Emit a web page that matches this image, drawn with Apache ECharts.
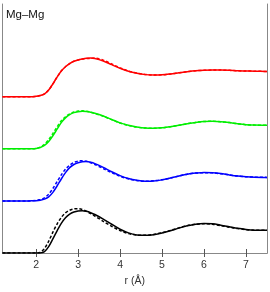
<!DOCTYPE html>
<html><head><meta charset="utf-8">
<script src="https://cdn.jsdelivr.net/npm/echarts@6/dist/echarts.min.js"></script>
<style>html,body{margin:0;padding:0;background:#fff}#c{width:270px;height:292px}</style>
</head><body><div id="c"></div>
<script>
const r = [1.2,1.6,1.8,1.9,2.0,2.1,2.2,2.3,2.4,2.5,2.6,2.7,2.8,2.9,3.0,3.1,3.2,3.3,3.4,3.6,3.8,4.0,4.2,4.4,4.6,4.8,5.0,5.2,5.4,5.6,5.8,6.0,6.2,6.4,6.6,6.8,7.0,7.2,7.5];
const blackSolid = [0,0,0,0,0,0.005,0.06,0.28,0.62,0.98,1.31,1.56,1.72,1.81,1.86,1.87,1.84,1.78,1.70,1.50,1.27,1.05,0.89,0.80,0.78,0.81,0.88,0.98,1.10,1.20,1.27,1.30,1.29,1.23,1.16,1.09,1.04,1.01,1.0];
const blackDash  = [0,0,0,0,0,0.03,0.2,0.52,0.92,1.28,1.57,1.77,1.89,1.95,1.96,1.92,1.84,1.74,1.63,1.40,1.18,0.99,0.86,0.79,0.78,0.82,0.90,1.00,1.11,1.21,1.27,1.29,1.27,1.21,1.14,1.08,1.03,1.01,1.0];
const blueSolid  = [0,0,0,0.003,0.012,0.035,0.08,0.18,0.38,0.66,0.97,1.25,1.47,1.61,1.69,1.73,1.74,1.71,1.65,1.48,1.29,1.12,0.99,0.91,0.87,0.88,0.93,1.01,1.10,1.18,1.23,1.26,1.25,1.21,1.15,1.10,1.07,1.05,1.04];
const blueDash   = [0,0,0,0.005,0.02,0.06,0.14,0.3,0.55,0.85,1.15,1.4,1.58,1.7,1.76,1.78,1.75,1.69,1.61,1.43,1.25,1.09,0.97,0.90,0.87,0.89,0.94,1.01,1.10,1.18,1.23,1.25,1.24,1.20,1.15,1.10,1.07,1.05,1.04];
const greenSolid = [0,0,0,0.005,0.02,0.06,0.15,0.33,0.58,0.87,1.16,1.37,1.51,1.6,1.64,1.66,1.65,1.62,1.57,1.45,1.30,1.15,1.04,0.97,0.92,0.91,0.93,0.98,1.04,1.11,1.17,1.21,1.22,1.20,1.16,1.11,1.07,1.05,1.04];
const greenDash  = [0,0,0,0.006,0.025,0.08,0.2,0.41,0.68,0.97,1.24,1.42,1.55,1.63,1.67,1.68,1.66,1.62,1.56,1.44,1.29,1.14,1.03,0.96,0.92,0.91,0.93,0.98,1.04,1.11,1.17,1.21,1.22,1.20,1.16,1.11,1.07,1.05,1.04];
const redSolid   = [0,0,0,0.006,0.02,0.055,0.13,0.3,0.57,0.87,1.14,1.33,1.47,1.57,1.63,1.67,1.70,1.71,1.69,1.58,1.42,1.26,1.13,1.04,0.98,0.96,0.97,1.01,1.06,1.11,1.15,1.17,1.18,1.18,1.17,1.15,1.14,1.13,1.12];
const redDash    = [0,0,0,0.006,0.02,0.055,0.13,0.3,0.57,0.87,1.14,1.33,1.47,1.57,1.63,1.67,1.69,1.70,1.71,1.62,1.45,1.28,1.14,1.05,0.99,0.96,0.97,1.01,1.06,1.11,1.15,1.17,1.18,1.18,1.17,1.15,1.14,1.13,1.12];
const offsets = [0, 2.3, 4.6, 6.9];
const xTicks = [2,3,4,5,6,7];

const curves = [
  {d: blackSolid, o: offsets[0], c:'#000000', t:'solid'},
  {d: blackDash,  o: offsets[0], c:'#000000', t:'dashed'},
  {d: blueSolid,  o: offsets[1], c:'#0000ff', t:'solid'},
  {d: blueDash,   o: offsets[1], c:'#0000ff', t:'dashed'},
  {d: greenSolid, o: offsets[2], c:'#00ee00', t:'solid'},
  {d: greenDash,  o: offsets[2], c:'#00ee00', t:'dashed'},
  {d: redSolid,   o: offsets[3], c:'#ff0000', t:'solid'},
  {d: redDash,    o: offsets[3], c:'#ff0000', t:'dashed'}
];
const font = 'Liberation Sans';
const chart = echarts.init(document.getElementById('c'), null, {renderer:'canvas'});
const axisLine = {show:true, lineStyle:{color:'#888', width:1}};
chart.setOption({
  animation:false,
  grid:{left:2.5, right:3, top:4, bottom:36},
  graphic:[{type:'text', left:6, top:9, style:{text:'Mg–Mg', font:'11.5px "Liberation Sans"', fill:'#111'}}],
  xAxis:[
    {type:'value', min:1.2, max:7.5, position:'bottom', axisLine,
     axisTick:{show:true, inside:true, length:4, customValues:xTicks, lineStyle:{color:'#555'}},
     axisLabel:{show:true, customValues:xTicks, margin:7, fontSize:10.5, fontFamily:font, color:'#333'},
     splitLine:{show:false},
     name:'r (Å)', nameLocation:'middle', nameGap:23, nameTextStyle:{fontSize:10.5, fontFamily:font, color:'#333'}},
    {type:'value', min:1.2, max:7.5, position:'top', axisLine,
     axisTick:{show:true, inside:true, length:4, customValues:xTicks, lineStyle:{color:'#555'}},
     axisLabel:{show:false}, splitLine:{show:false}}
  ],
  yAxis:[
    {type:'value', min:0, max:11, position:'left', axisLine, axisTick:{show:false}, axisLabel:{show:false}, splitLine:{show:false}},
    {type:'value', min:0, max:11, position:'right', axisLine, axisTick:{show:false}, axisLabel:{show:false}, splitLine:{show:false}}
  ],
  series: curves.map(s => ({
    type:'line', xAxisIndex:0, yAxisIndex:0, showSymbol:false, smooth:0.3,
    lineStyle:{color:s.c, width:1.5, type: s.t==='dashed' ? [3,2] : 'solid'},
    data: r.map((x,i)=>[x, s.d[i] + s.o])
  }))
});
</script></body></html>
